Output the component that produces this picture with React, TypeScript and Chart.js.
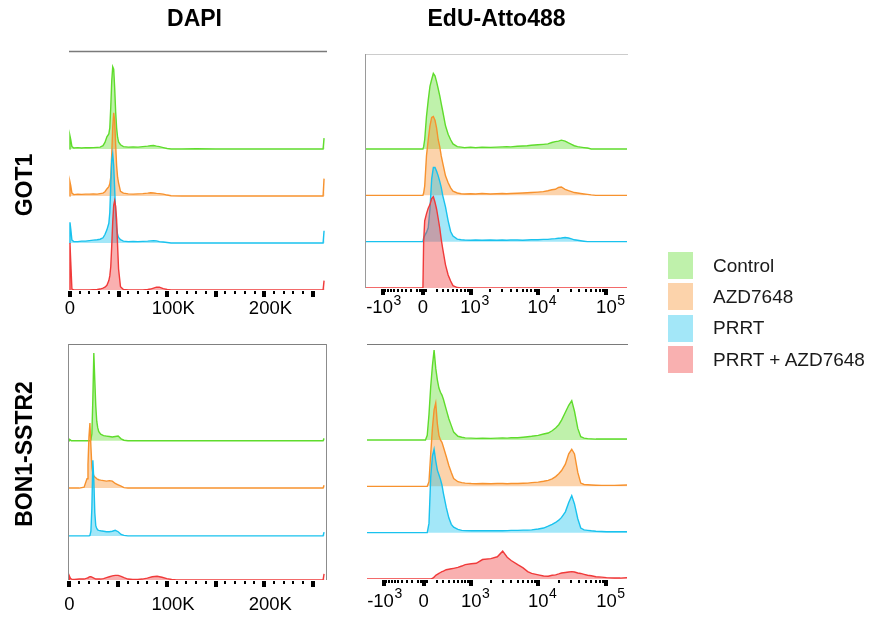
import React, { useEffect, useRef } from "react";
import { Chart, registerables } from "chart.js";

Chart.register(...registerables);

const FONT = '"Liberation Sans", Arial, Helvetica, sans-serif';

// ---------- series / legend ----------
const SERIES = ["Control", "AZD7648", "PRRT", "PRRT + AZD7648"];
const LINE_COLORS = ["#5fdc2c", "#f7922e", "#19c2ee", "#f03a3a"];
const FILL_COLORS = [
  "rgba(95,220,44,0.4)",
  "rgba(247,146,46,0.4)",
  "rgba(25,194,238,0.4)",
  "rgba(240,58,58,0.4)",
];
const COLUMN_TITLES = ["DAPI", "EdU-Atto488"];
const ROW_TITLES = ["GOT1", "BON1-SSTR2"];

// ---------- DAPI, GOT1 (x in thousands) ----------
const DAPI_GOT1_X = [-0.5, 0, 0.8, 2, 4, 8, 12, 16, 20, 24, 28, 31, 34, 36, 38, 40, 41, 42, 43, 44, 45, 46, 47, 48, 49, 50, 52, 55, 60, 65, 70, 75, 80, 83, 86, 89, 92, 96, 100, 104, 115, 130, 150, 175, 200, 225, 250, 259, 260.5, 261.5, 262.1];
const DAPI_GOT1_CONTROL = [0, 0.28, 0.2, 0.05, 0.02, 0.03, 0.02, 0.03, 0.025, 0.03, 0.035, 0.04, 0.07, 0.14, 0.26, 0.32, 0.45, 0.9, 1.45, 1.75, 1.7, 1.3, 0.8, 0.45, 0.25, 0.15, 0.09, 0.05, 0.04, 0.045, 0.04, 0.05, 0.06, 0.07, 0.075, 0.06, 0.05, 0.03, 0.01, 0, 0, 0.005, 0, 0, 0, 0, 0, 0, 0, 0.23, 0.23];
const DAPI_GOT1_AZD = [0, 0.3, 0.22, 0.06, 0.03, 0.04, 0.035, 0.04, 0.04, 0.045, 0.04, 0.05, 0.06, 0.09, 0.15, 0.2, 0.26, 0.4, 0.9, 1.45, 1.77, 1.6, 1.1, 0.65, 0.4, 0.28, 0.1, 0.06, 0.045, 0.04, 0.045, 0.05, 0.06, 0.07, 0.065, 0.055, 0.05, 0.04, 0.02, 0.005, 0, 0, 0, 0, 0, 0, 0, 0, 0, 0.37, 0.37];
const DAPI_GOT1_PRRT = [0, 0.44, 0.3, 0.06, 0.03, 0.03, 0.04, 0.04, 0.05, 0.06, 0.07, 0.08, 0.11, 0.18, 0.28, 0.42, 0.65, 1.25, 1.75, 1.9, 1.65, 1.15, 0.65, 0.33, 0.18, 0.12, 0.07, 0.04, 0.03, 0.035, 0.03, 0.035, 0.04, 0.045, 0.05, 0.045, 0.03, 0.02, 0.01, 0, 0, 0, 0, 0, 0, 0, 0, 0, 0, 0.26, 0.26];
const DAPI_GOT1_COMBO = [0, 1.0, 0.6, 0.02, 0, 0, 0, 0, 0, 0.005, 0.01, 0.02, 0.04, 0.06, 0.1, 0.2, 0.3, 0.5, 0.95, 1.45, 1.8, 1.9, 1.78, 1.5, 0.95, 0.45, 0.07, 0.01, 0, 0, 0, 0, 0.01, 0.02, 0.04, 0.06, 0.06, 0.03, 0.01, 0, 0, 0, 0, 0, 0, 0, 0, 0, 0, 0.2, 0.2];

// ---------- DAPI, BON1-SSTR2 (x in thousands) ----------
const DAPI_BON1_X = [-0.5, 0, 0.8, 2, 5, 10, 15, 18, 19, 20, 21, 22, 23, 24, 25, 26, 27, 28, 29, 30, 32, 35, 38, 41, 44, 47, 50, 53, 56, 60, 65, 70, 75, 80, 85, 90, 95, 100, 105, 110, 115, 120, 130, 150, 175, 200, 225, 250, 259, 260.5, 261.5, 262.1];
const DAPI_BON1_CONTROL = [0, 0.03, 0.02, 0, 0, 0, 0, 0, 0, 0, 0, 0.02, 0.15, 0.9, 1.89, 1.3, 0.75, 0.42, 0.28, 0.2, 0.14, 0.11, 0.1, 0.09, 0.08, 0.09, 0.1, 0.04, 0.01, 0, 0, 0, 0, 0, 0, 0, 0, 0, 0, 0, 0, 0, 0, 0, 0, 0, 0, 0, 0, 0, 0.05, 0.05];
const DAPI_BON1_AZD = [0, 0, 0, 0, 0, 0, 0.02, 0.2, 0.5, 1.1, 1.4, 0.9, 0.45, 0.32, 0.27, 0.24, 0.22, 0.2, 0.19, 0.18, 0.17, 0.16, 0.15, 0.16, 0.15, 0.1, 0.07, 0.04, 0.01, 0, 0, 0, 0, 0, 0, 0, 0, 0, 0, 0, 0, 0, 0, 0, 0, 0, 0, 0, 0, 0, 0.06, 0.06];
const DAPI_BON1_PRRT = [0, 0, 0, 0, 0, 0, 0, 0, 0, 0, 0.01, 0.1, 0.6, 1.63, 1.2, 0.5, 0.22, 0.16, 0.13, 0.12, 0.11, 0.1, 0.09, 0.09, 0.1, 0.12, 0.09, 0.03, 0.01, 0, 0, 0, 0, 0, 0, 0, 0, 0, 0, 0, 0, 0, 0, 0, 0, 0, 0, 0, 0, 0, 0.08, 0.08];
const DAPI_BON1_COMBO = [0, 0.08, 0.04, 0.02, 0.01, 0.02, 0.02, 0.04, 0.05, 0.06, 0.07, 0.07, 0.06, 0.05, 0.04, 0.03, 0.02, 0.02, 0.02, 0.02, 0.02, 0.03, 0.05, 0.07, 0.09, 0.1, 0.1, 0.08, 0.05, 0.02, 0.01, 0.01, 0.02, 0.04, 0.07, 0.08, 0.06, 0.03, 0.01, 0, 0, 0, 0, 0, 0, 0, 0, 0, 0, 0, 0.13, 0.13];

// ---------- EdU (fluorescence values) ----------
const EDU_X = [-2000, -1000, -500, -200, -100, -50, 0, 10, 25, 50, 75, 100, 125, 150, 175, 200, 225, 250, 275, 300, 350, 400, 450, 500, 600, 700, 800, 1000, 1200, 1500, 2000, 2500, 3000, 3500, 4000, 5000, 6000, 7000, 8000, 10000, 12000, 14000, 16000, 18000, 20000, 22000, 25000, 28000, 31000, 34000, 38000, 42000, 47000, 53000, 60000, 70000, 85000, 100000, 130000, 160000, 200000];
const EDU_GOT1_CONTROL = [0, 0, 0, 0, 0, 0, 0, 0.05, 0.2, 0.7, 1.05, 1.35, 1.5, 1.63, 1.58, 1.45, 1.3, 1.15, 0.98, 0.82, 0.5, 0.32, 0.2, 0.11, 0.05, 0.04, 0.03, 0.04, 0.03, 0.04, 0.035, 0.04, 0.045, 0.05, 0.045, 0.06, 0.065, 0.07, 0.08, 0.09, 0.1, 0.11, 0.14, 0.16, 0.17, 0.19, 0.17, 0.13, 0.1, 0.07, 0.05, 0.04, 0.03, 0.02, 0, 0, 0, 0, 0, 0, 0];
const EDU_GOT1_AZD = [0, 0, 0, 0, 0, 0, 0, 0.05, 0.2, 0.85, 1.2, 1.5, 1.68, 1.7, 1.62, 1.45, 1.2, 1.05, 0.85, 0.7, 0.42, 0.27, 0.16, 0.09, 0.05, 0.035, 0.03, 0.035, 0.03, 0.04, 0.03, 0.035, 0.04, 0.035, 0.04, 0.045, 0.05, 0.055, 0.06, 0.07, 0.08, 0.1, 0.12, 0.13, 0.17, 0.18, 0.13, 0.1, 0.08, 0.06, 0.05, 0.04, 0.03, 0.02, 0.01, 0, 0, 0, 0, 0, 0];
const EDU_GOT1_PRRT = [0, 0, 0, 0, 0, 0, 0, 0.08, 0.13, 0.2, 0.3, 0.7, 1.35, 1.6, 1.6, 1.52, 1.42, 1.3, 1.17, 1.0, 0.75, 0.45, 0.22, 0.12, 0.055, 0.04, 0.035, 0.03, 0.035, 0.03, 0.035, 0.03, 0.035, 0.03, 0.035, 0.035, 0.03, 0.035, 0.04, 0.04, 0.05, 0.05, 0.06, 0.065, 0.075, 0.08, 0.09, 0.08, 0.06, 0.04, 0.03, 0.02, 0.01, 0, 0, 0, 0, 0, 0, 0, 0];
const EDU_GOT1_COMBO = [0, 0, 0, 0, 0, 0, 0, 1.0, 1.45, 1.6, 1.72, 1.8, 1.93, 1.97, 1.85, 1.7, 1.5, 1.3, 1.05, 0.85, 0.5, 0.28, 0.15, 0.05, 0.01, 0, 0, 0, 0, 0, 0, 0, 0, 0, 0, 0, 0, 0, 0, 0, 0, 0, 0, 0, 0, 0, 0, 0, 0, 0, 0, 0, 0, 0, 0, 0, 0, 0, 0, 0, 0];
const EDU_BON1_CONTROL = [0, 0, 0, 0, 0, 0, 0, 0, 0, 0.1, 0.55, 1.15, 1.6, 1.94, 1.55, 1.3, 1.12, 1.03, 0.97, 0.88, 0.66, 0.46, 0.31, 0.17, 0.08, 0.06, 0.045, 0.04, 0.035, 0.04, 0.035, 0.04, 0.045, 0.04, 0.05, 0.05, 0.06, 0.07, 0.08, 0.1, 0.13, 0.15, 0.2, 0.26, 0.33, 0.43, 0.6, 0.75, 0.85, 0.62, 0.25, 0.07, 0.04, 0.03, 0.025, 0.02, 0.02, 0.02, 0.02, 0.02, 0.02];
const EDU_BON1_AZD = [0, 0, 0, 0, 0, 0, 0, 0, 0, 0, 0.1, 0.7, 1.25, 1.65, 1.8, 1.35, 1.1, 1.0, 0.95, 0.85, 0.65, 0.45, 0.3, 0.17, 0.1, 0.08, 0.07, 0.06, 0.055, 0.06, 0.055, 0.06, 0.06, 0.055, 0.06, 0.06, 0.065, 0.07, 0.08, 0.09, 0.11, 0.13, 0.16, 0.21, 0.27, 0.34, 0.48, 0.7, 0.8, 0.7, 0.3, 0.07, 0.04, 0.035, 0.03, 0.025, 0.02, 0.02, 0.02, 0.025, 0.03];
const EDU_BON1_PRRT = [0, 0, 0, 0, 0, 0, 0, 0, 0, 0, 0.2, 1.2, 1.65, 1.8, 1.55, 1.35, 1.25, 1.15, 1.03, 0.85, 0.55, 0.32, 0.18, 0.12, 0.07, 0.05, 0.045, 0.04, 0.04, 0.045, 0.04, 0.045, 0.04, 0.045, 0.05, 0.05, 0.055, 0.055, 0.06, 0.08, 0.1, 0.14, 0.18, 0.22, 0.27, 0.33, 0.45, 0.65, 0.8, 0.62, 0.3, 0.1, 0.06, 0.05, 0.04, 0.03, 0.025, 0.02, 0.02, 0.02, 0.02];
const EDU_BON1_COMBO = [0, 0, 0, 0, 0, 0, 0, 0, 0, 0, 0, 0, 0.01, 0.04, 0.08, 0.1, 0.12, 0.14, 0.16, 0.17, 0.2, 0.21, 0.22, 0.23, 0.25, 0.28, 0.31, 0.33, 0.34, 0.42, 0.44, 0.48, 0.6, 0.47, 0.4, 0.31, 0.24, 0.16, 0.12, 0.09, 0.065, 0.06, 0.08, 0.09, 0.11, 0.13, 0.14, 0.15, 0.16, 0.15, 0.13, 0.12, 0.1, 0.08, 0.07, 0.05, 0.04, 0.03, 0.02, 0.02, 0.03];

// ---------- axis ticks ----------
const DAPI_MAJOR_TICKS = [0, 50, 100, 150, 200, 250];
const DAPI_MINOR_TICKS = [10, 20, 30, 40, 60, 70, 80, 90, 110, 120, 130, 140, 160, 170, 180, 190, 210, 220, 230, 240];
const DAPI_LABEL_VALUES = [0, 100, 200];
const DAPI_LABEL_NUMBERS = ["0", "100", "200"];
const DAPI_LABEL_SUFFIX = ["", "K", "K"];

const EDU_MAJOR_TICKS = [-1000, 0, 1000, 10000, 100000];
const EDU_MINOR_TICKS = [-900, -800, -700, -600, -500, -400, -300, -200, -100, -50, -40, -30, -20, -10, 10, 20, 30, 40, 50, 200, 300, 400, 500, 600, 700, 800, 900, 2000, 3000, 4000, 5000, 6000, 7000, 8000, 9000, 20000, 30000, 40000, 50000, 60000, 70000, 80000, 90000];
const EDU_LABEL_VALUES = [-1000, 0, 1000, 10000, 100000];
const EDU_LABEL_SIGN = ["-", "", "", "", ""];
const EDU_LABEL_BASE = ["10", "0", "10", "10", "10"];
const EDU_LABEL_EXP = ["3", "", "3", "4", "5"];

// biexponential-like display transform for the EdU axis
const EDU_W = 420;
const EDU_NEG = 0.845;
const eduT = (v: number) => {
  const a = Math.asinh(v / EDU_W);
  return v < 0 ? a * EDU_NEG : a;
};
const ident = (v: number) => v;

type Label = { v: number; sign: string; base: string; post: string; exp: string };

const dapiLabels: Label[] = DAPI_LABEL_VALUES.map((v, i) => ({
  v, sign: "", base: DAPI_LABEL_NUMBERS[i], post: DAPI_LABEL_SUFFIX[i], exp: "",
}));
const eduLabels: Label[] = EDU_LABEL_VALUES.map((v, i) => ({
  v, sign: EDU_LABEL_SIGN[i], base: EDU_LABEL_BASE[i], post: "", exp: EDU_LABEL_EXP[i],
}));

type Panel = {
  key: string;
  area: { left: number; top: number; right: number; bottom: number };
  xs: number[];
  series: number[][];
  offsets: number[];
  yMax: number;
  tx: (v: number) => number;
  xMin: number;
  xMax: number;
  major: number[];
  minor: number[];
  labels: Label[];
  labelY: number;
  borders: { top?: string; left?: string; right?: string; topW?: number };
};

const PANELS: Panel[] = [
  {
    key: "dapi-got1",
    area: { left: 69, top: 51, right: 326, bottom: 290 },
    xs: DAPI_GOT1_X,
    series: [DAPI_GOT1_CONTROL, DAPI_GOT1_AZD, DAPI_GOT1_PRRT, DAPI_GOT1_COMBO],
    offsets: [3, 2, 1, 0],
    yMax: 5.085,
    tx: ident, xMin: -1, xMax: 263.5,
    major: DAPI_MAJOR_TICKS, minor: DAPI_MINOR_TICKS, labels: dapiLabels, labelY: 314,
    borders: { top: "#7a7a7a", topW: 1.6 },
  },
  {
    key: "edu-got1",
    area: { left: 366, top: 54, right: 627, bottom: 288 },
    xs: EDU_X,
    series: [EDU_GOT1_CONTROL, EDU_GOT1_AZD, EDU_GOT1_PRRT, EDU_GOT1_COMBO],
    offsets: [3, 2, 1, 0],
    yMax: 5.05,
    tx: eduT, xMin: eduT(-2000), xMax: eduT(200000),
    major: EDU_MAJOR_TICKS, minor: EDU_MINOR_TICKS, labels: eduLabels, labelY: 313.3,
    borders: { top: "#cccccc", left: "#9a9a9a", topW: 1 },
  },
  {
    key: "dapi-bon1",
    area: { left: 69, top: 344, right: 326, bottom: 580 },
    xs: DAPI_BON1_X,
    series: [DAPI_BON1_CONTROL, DAPI_BON1_AZD, DAPI_BON1_PRRT, DAPI_BON1_COMBO],
    offsets: [3, 1.98, 0.95, 0],
    yMax: 5.083,
    tx: ident, xMin: -0.5, xMax: 263.5,
    major: DAPI_MAJOR_TICKS, minor: DAPI_MINOR_TICKS, labels: dapiLabels, labelY: 610,
    borders: { top: "#808080", left: "#8c8c8c", right: "#8c8c8c", topW: 1.2 },
  },
  {
    key: "edu-bon1",
    area: { left: 367, top: 344, right: 627, bottom: 579 },
    xs: EDU_X,
    series: [EDU_BON1_CONTROL, EDU_BON1_AZD, EDU_BON1_PRRT, EDU_BON1_COMBO],
    offsets: [3, 2, 1, 0],
    yMax: 5.072,
    tx: eduT, xMin: eduT(-2000), xMax: eduT(200000),
    major: EDU_MAJOR_TICKS, minor: EDU_MINOR_TICKS, labels: eduLabels, labelY: 606.7,
    borders: { top: "#7a7a7a", topW: 1.2 },
  },
];

const W = 874;
const H = 619;

function axisPlugin(p: Panel) {
  return {
    id: "flowAxis",
    afterDraw(chart: any) {
      const ctx: CanvasRenderingContext2D = chart.ctx;
      const a = chart.chartArea;
      const xs = chart.scales.x;
      const px = (v: number) => xs.getPixelForValue(p.tx(v));
      ctx.save();
      const b = p.borders;
      if (b.top) {
        ctx.strokeStyle = b.top;
        ctx.lineWidth = b.topW || 1;
        ctx.beginPath();
        ctx.moveTo(a.left, Math.round(a.top) + 0.5);
        ctx.lineTo(a.right + 1, Math.round(a.top) + 0.5);
        ctx.stroke();
      }
      ctx.lineWidth = 1;
      if (b.left) {
        ctx.strokeStyle = b.left;
        ctx.beginPath();
        ctx.moveTo(Math.round(a.left) - 0.5, a.top);
        ctx.lineTo(Math.round(a.left) - 0.5, a.bottom);
        ctx.stroke();
      }
      if (b.right) {
        ctx.strokeStyle = b.right;
        ctx.beginPath();
        ctx.moveTo(Math.round(a.right) + 0.5, a.top);
        ctx.lineTo(Math.round(a.right) + 0.5, a.bottom);
        ctx.stroke();
      }
      ctx.fillStyle = "#000";
      const y0 = Math.round(a.bottom) + 1;
      p.minor.forEach((v) => {
        const x = px(v);
        ctx.fillRect(Math.round(x) - 1, y0, 2, 3);
      });
      p.major.forEach((v) => {
        const x = px(v);
        ctx.fillRect(Math.round(x) - 2, y0, 4, 6);
      });
      ctx.textBaseline = "alphabetic";
      ctx.textAlign = "left";
      p.labels.forEach((l) => {
        const x = px(l.v);
        ctx.font = `18.5px ${FONT}`;
        const bw = ctx.measureText(l.base).width;
        const x0 = x - bw / 2;
        ctx.fillText(l.base, x0, p.labelY);
        if (l.sign) {
          const sw = ctx.measureText(l.sign).width;
          ctx.fillText(l.sign, x0 - sw, p.labelY);
        }
        if (l.post) ctx.fillText(l.post, x0 + bw, p.labelY);
        if (l.exp) {
          ctx.font = `14px ${FONT}`;
          ctx.fillText(l.exp, x0 + bw + 0.5, p.labelY - 8.5);
        }
      });
      ctx.restore();
    },
  };
}

function HistPanel({ p }: { p: Panel }) {
  const ref = useRef<HTMLCanvasElement>(null);
  useEffect(() => {
    if (!ref.current) return;
    const datasets = p.series.map((vals, i) => ({
      label: SERIES[i],
      data: p.xs.map((x, j) => ({ x: p.tx(x), y: p.offsets[i] + vals[j] })),
      borderColor: LINE_COLORS[i],
      backgroundColor: FILL_COLORS[i],
      borderWidth: 1.4,
      pointRadius: 0,
      tension: 0,
      fill: { value: p.offsets[i] },
      order: 3 - i,
    }));
    const chart = new Chart(ref.current, {
      type: "line",
      data: { datasets },
      options: {
        responsive: false,
        animation: false,
        events: [],
        layout: {
          padding: {
            left: p.area.left,
            top: p.area.top,
            right: W - p.area.right,
            bottom: H - p.area.bottom,
          },
        },
        scales: {
          x: { type: "linear", min: p.xMin, max: p.xMax, display: false },
          y: { type: "linear", min: 0, max: p.yMax, display: false },
        },
        plugins: { legend: { display: false }, tooltip: { enabled: false } },
      },
      plugins: [axisPlugin(p)],
    } as any);
    return () => chart.destroy();
  }, [p]);
  return (
    <canvas
      ref={ref}
      width={W}
      height={H}
      style={{ position: "absolute", left: 0, top: 0, width: W, height: H }}
    />
  );
}

const titleStyle: React.CSSProperties = {
  position: "absolute",
  fontFamily: FONT,
  fontWeight: "bold",
  fontSize: 23,
  lineHeight: "23px",
  whiteSpace: "nowrap",
  color: "#000",
};

export default function App() {
  const colCenters = [194.5, 496.5];
  const rowCenters = [185, 454];
  return (
    <div style={{ position: "absolute", left: 0, top: 0, width: W, height: H, background: "#fff", overflow: "hidden" }}>
      {PANELS.map((p) => (
        <HistPanel key={p.key} p={p} />
      ))}
      {COLUMN_TITLES.map((t, i) => (
        <div key={t} style={{ ...titleStyle, left: colCenters[i], top: 7.2, transform: "translateX(-50%)" }}>
          {t}
        </div>
      ))}
      {ROW_TITLES.map((t, i) => (
        <div
          key={t}
          style={{ ...titleStyle, left: 24, top: rowCenters[i], transform: "translate(-50%, -50%) rotate(-90deg)" }}
        >
          {t}
        </div>
      ))}
      {SERIES.map((s, i) => (
        <div
          key={s}
          style={{ position: "absolute", left: 668, top: 252 + i * 31.4, height: 27, display: "flex", alignItems: "center" }}
        >
          <div style={{ width: 25, height: 27, background: FILL_COLORS[i] }} />
          <div style={{ marginLeft: 20, fontFamily: FONT, fontSize: 19, color: "#1a1a1a", whiteSpace: "nowrap" }}>{s}</div>
        </div>
      ))}
    </div>
  );
}
